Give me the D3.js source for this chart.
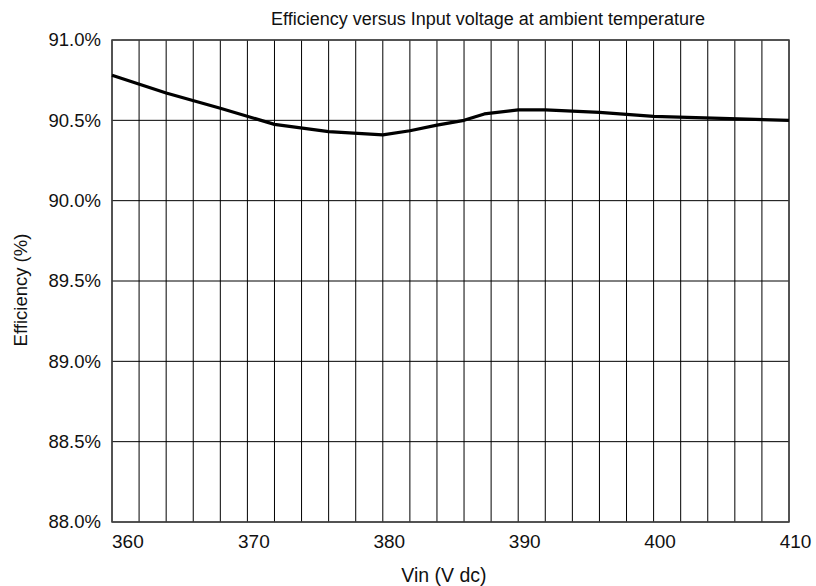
<!DOCTYPE html>
<html>
<head>
<meta charset="utf-8">
<script src="https://cdn.jsdelivr.net/npm/d3@7"></script>
<style>
  body { margin: 0; background: #fff; }
  svg { display: block; font-family: "Liberation Sans", Arial, Helvetica, sans-serif; }
</style>
</head>
<body>
<svg id="chart" width="816" height="586"></svg>
<script>
// Data
const vin = [360, 364, 368, 372, 376, 380, 382, 384, 386, 387.5, 390, 392, 396, 400, 405, 410];
const efficiency = [90.78, 90.67, 90.575, 90.475, 90.43, 90.41, 90.435, 90.47, 90.50, 90.54, 90.565, 90.565, 90.55, 90.525, 90.512, 90.50];
const xTickValues = [360, 370, 380, 390, 400, 410];
const yTickValues = [88.0, 88.5, 89.0, 89.5, 90.0, 90.5, 91.0];
const xGridValues = d3.range(360, 411, 2);
const title = "Efficiency versus Input voltage at ambient temperature";
const xTitle = "Vin (V dc)";
const yTitle = "Efficiency (%)";

const svg = d3.select("#chart");
const mLeft = 112, mRight = 789, mTop = 40, mBottom = 522;

const x = d3.scaleLinear().domain([360, 410]).range([mLeft, mRight]);
const y = d3.scaleLinear().domain([88, 91]).range([mBottom, mTop]);

// vertical grid
svg.append("g").selectAll("line").data(xGridValues).join("line")
  .attr("x1", d => x(d)).attr("x2", d => x(d))
  .attr("y1", mTop).attr("y2", mBottom)
  .attr("stroke", "#000").attr("stroke-width", 1);

// horizontal grid
svg.append("g").selectAll("line").data(yTickValues).join("line")
  .attr("x1", mLeft).attr("x2", mRight)
  .attr("y1", d => y(d)).attr("y2", d => y(d))
  .attr("stroke", "#000").attr("stroke-width", 1);

// frame
svg.append("rect").attr("x", mLeft).attr("y", mTop)
  .attr("width", mRight - mLeft).attr("height", mBottom - mTop)
  .attr("fill", "none").attr("stroke", "#444").attr("stroke-width", 1.5);

// y tick labels
svg.append("g").selectAll("text").data(yTickValues).join("text")
  .attr("x", 101).attr("y", d => y(d)).attr("dy", "0.35em")
  .attr("text-anchor", "end").attr("font-size", 18.5).attr("fill", "#111")
  .text(d => d.toFixed(1) + "%");

// x tick labels
svg.append("g").selectAll("text").data(xTickValues).join("text")
  .attr("x", (d, i) => i === 0 ? mLeft : x(d) + 6.5)
  .attr("y", 548)
  .attr("text-anchor", (d, i) => i === 0 ? "start" : "middle")
  .attr("font-size", 19).attr("fill", "#111")
  .text(d => d);

// line
const line = d3.line().x((d, i) => x(vin[i])).y(d => y(d));
svg.append("path").datum(efficiency)
  .attr("d", line).attr("fill", "none")
  .attr("stroke", "#000").attr("stroke-width", 3.2).attr("stroke-linejoin", "round");

// titles
svg.append("text").attr("x", 488).attr("y", 25).attr("text-anchor", "middle")
  .attr("font-size", 18).attr("fill", "#111").text(title);
svg.append("text").attr("x", 444).attr("y", 582).attr("text-anchor", "middle")
  .attr("font-size", 19.5).attr("fill", "#111").text(xTitle);
svg.append("text").attr("transform", "translate(27,290) rotate(-90)")
  .attr("text-anchor", "middle").attr("font-size", 18.5).attr("fill", "#111").text(yTitle);
</script>
</body>
</html>
